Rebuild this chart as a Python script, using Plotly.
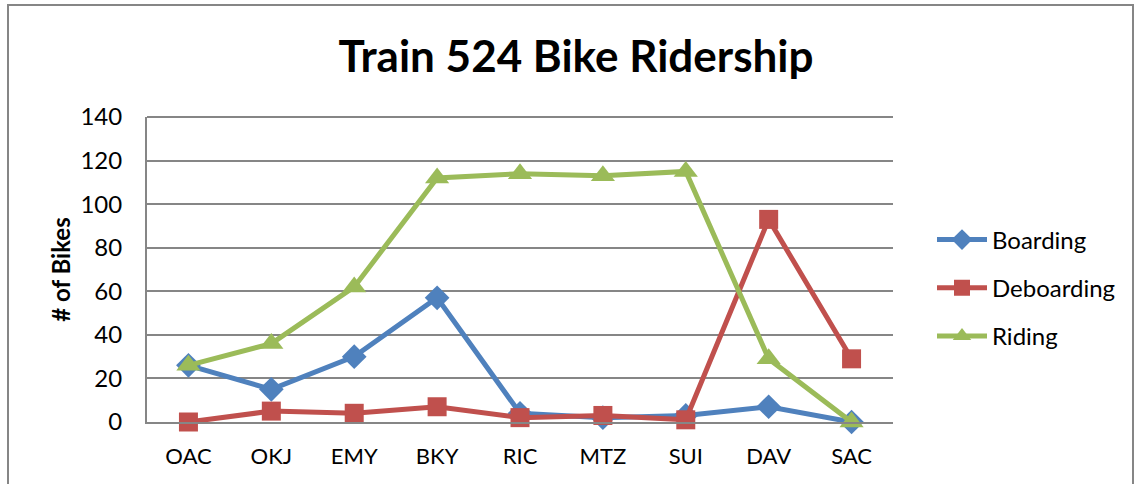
import plotly.graph_objects as go

stations = ["OAC", "OKJ", "EMY", "BKY", "RIC", "MTZ", "SUI", "DAV", "SAC"]
boarding = [26, 15, 30, 57, 4, 2, 3, 7, 0]
deboarding = [0, 5, 4, 7, 2, 3, 1, 93, 29]
riding = [26, 36, 62, 112, 114, 113, 115, 29, 0]

W, H = 1134, 484
L, R, T, B = 147, 893, 117, 422

fig = go.Figure()
fig.add_trace(go.Scatter(x=stations, y=boarding, name="Boarding", mode="lines+markers",
                         legendgroup="a",
                         line=dict(color="#4F81BD", width=5),
                         marker=dict(symbol="diamond", size=19, color="#4F81BD"),
                         cliponaxis=False))
fig.add_trace(go.Scatter(x=stations, y=deboarding, name="Deboarding", mode="lines+markers",
                         legendgroup="b",
                         line=dict(color="#C0504D", width=5),
                         marker=dict(symbol="square", size=19, color="#C0504D"),
                         cliponaxis=False))
fig.add_trace(go.Scatter(x=stations, y=riding, name="Riding", mode="lines+markers",
                         legendgroup="c",
                         line=dict(color="#9BBB59", width=5),
                         marker=dict(symbol="triangle-up", size=21, color="#9BBB59"),
                         cliponaxis=False))

pw, ph = R - L, B - T
def px(xp):
    return (xp - L) / pw
def py(yp):
    return (B - yp) / ph

fig.update_layout(
    width=W, height=H,
    margin=dict(l=L, r=W - R, t=T, b=H - B),
    paper_bgcolor="white", plot_bgcolor="white",
    font=dict(family="Lato, Calibri, sans-serif", size=22, color="#000000"),
    title=dict(text="<b>Train 524 Bike Ridership</b>", x=576 / W, xanchor="center",
               y=1 - 57 / H, yanchor="middle",
               font=dict(family="Lato, sans-serif", size=44, color="#000000")),
    showlegend=True,
    legend=dict(x=px(932), y=py(288), xanchor="left", yanchor="middle",
                font=dict(size=24), tracegroupgap=14, itemwidth=50,
                bgcolor="rgba(0,0,0,0)"),
    xaxis=dict(type="category", range=[-0.5, 8.5], showgrid=False,
               showline=True, linecolor="#868686", linewidth=2,
               ticks="", tickfont=dict(size=22), ticklabelstandoff=14, fixedrange=True),
    yaxis=dict(range=[0, 140], dtick=20, showgrid=True, gridcolor="#868686", gridwidth=2,
               showline=True, linecolor="#868686", linewidth=2, zeroline=False,
               ticks="", tickfont=dict(size=24), ticklabelstandoff=18,
               title=dict(text="<b># of Bikes</b>", font=dict(size=24), standoff=3)),
    shapes=[dict(type="rect", xref="paper", yref="paper",
                 x0=px(8), x1=px(1133), y0=py(495), y1=py(5),
                 line=dict(color="#868686", width=2), layer="below")],
)
fig.add_shape(type="line", xref="paper", yref="paper", x0=0, x1=1, y0=1, y1=1,
              line=dict(color="#868686", width=2))

fig.write_html("out.html", config={"displayModeBar": False},
               post_script="document.body.style.margin='0';")
